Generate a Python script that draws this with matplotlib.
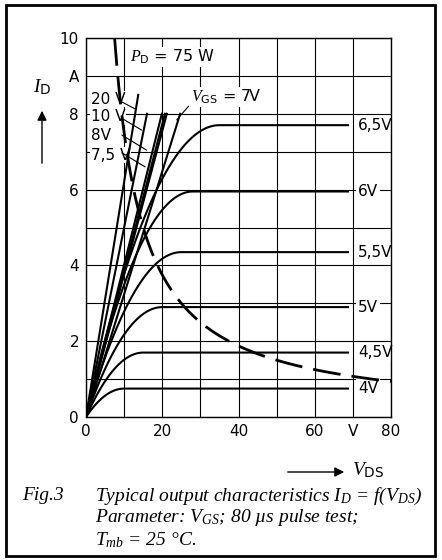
import numpy as np
import matplotlib
matplotlib.use("Agg")
import matplotlib.pyplot as plt
from matplotlib import font_manager
from matplotlib.patches import Rectangle

# datos
vds_max = 69
# curvas con saturacion (VGS = 4 ... 6,5 V)
sat_labels = ["4V", "4,5V", "5V", "5,5V", "6V", "6,5V"]
sat_current = [0.75, 1.7, 2.9, 4.35, 5.95, 7.7]
sat_knee = [10, 15, 20, 25, 28, 35]
# rectas (VGS >= 7 V) hasta el limite de 8 A
lin_end_v = [13.7, 16.0, 19.9, 20.7, 21.2, 24.7]
lin_end_i = [8.5, 8.0, 8.0, 8.0, 8.0, 8.0]
# limite de potencia
p_max = 75
x_ticks = [0, 10, 20, 30, 40, 50, 60, 70, 80]
x_tick_labels = ["0", "", "20", "", "40", "", "60", "V", "80"]
y_ticks = list(range(0, 11))
y_tick_labels = ["0", "", "2", "", "4", "", "6", "", "8", "A", "10"]

# fuentes
disponibles = {f.name for f in font_manager.fontManager.ttflist}
sans = "Liberation Sans Narrow" if "Liberation Sans Narrow" in disponibles else "DejaVu Sans"
plt.rcParams["font.family"] = [sans, "DejaVu Sans"]
plt.rcParams["mathtext.fontset"] = "custom"
plt.rcParams["mathtext.it"] = "Liberation Serif:italic"
plt.rcParams["mathtext.rm"] = "Liberation Serif:italic"
plt.rcParams["mathtext.sf"] = sans

W, H = 442, 560
fig = plt.figure(figsize=(W / 100, H / 100), dpi=100)
ax = fig.add_axes([86 / W, 1 - 417 / H, 305 / W, 379 / H])


def px(x, y):
    return (x / W, 1 - y / H)


# curvas de saturacion
for isat, vk, lab in zip(sat_current, sat_knee, sat_labels):
    v = np.linspace(0, vds_max, 300)
    i = np.where(v < vk, isat * (1 - (1 - v / vk) ** 2), isat)
    ax.plot(v, i, color="black", lw=1.5, zorder=3, solid_capstyle="butt")
    ax.text(71.3, isat, lab, fontsize=11, va="center", ha="left", zorder=2.5,
            bbox=dict(facecolor="white", edgecolor="none", pad=1.5))

# rectas de alta VGS
for ve, ie in zip(lin_end_v, lin_end_i):
    ax.plot([0, ve], [0, ie], color="black", lw=1.5, zorder=3)

# hiperbola de potencia
v_p = np.linspace(p_max / 10, 80, 400)
ax.plot(v_p, p_max / v_p, color="black", lw=2, dashes=(10, 4), zorder=3)

# etiquetas con linea de referencia
izq = [("20 V", 8.39, (8.9, 8.34), (12.86, 8.13)),
       ("10 V", 7.92, (9.4, 7.88), (14.6, 7.57)),
       ("8V", 7.44, (9.4, 7.44), (15.9, 7.04)),
       ("7,5 V", 6.91, (9.4, 6.97), (15.5, 6.6))]
for txt, yy, a, b in izq:
    ax.text(1.3, yy, txt, fontsize=11, va="center", ha="left", zorder=2.5,
            bbox=dict(facecolor="white", edgecolor="none", pad=0.5))
    ax.annotate("", xy=b, xytext=a, zorder=4,
                arrowprops=dict(arrowstyle="-", lw=0.8, color="black",
                                shrinkA=0, shrinkB=0))

ax.text(27.5, 8.45, r"$V_{\mathsf{GS}}$ = 7V", fontsize=11.5, va="center", ha="left",
        zorder=2.5, bbox=dict(facecolor="white", edgecolor="none", pad=0.5))
ax.annotate("", xy=(23.8, 7.84), xytext=(26.9, 8.2), zorder=4,
            arrowprops=dict(arrowstyle="-", lw=0.8, color="black", shrinkA=0, shrinkB=0))

ax.text(11.5, 9.5, r"$P_{\mathsf{D}}$ = 75 W", fontsize=11.5, va="center", ha="left",
        zorder=2.5, bbox=dict(facecolor="white", edgecolor="none", pad=0.5))

# ejes y rejilla
ax.set_xlim(0, 80)
ax.set_ylim(0, 10)
ax.set_xticks(x_ticks)
ax.set_xticklabels(x_tick_labels, fontsize=11)
ax.set_yticks(y_ticks)
ax.set_yticklabels(y_tick_labels, fontsize=11)
ax.tick_params(length=0, pad=5)
ax.grid(True, color="black", lw=0.8, zorder=0)
ax.set_axisbelow(True)
for s in ax.spines.values():
    s.set_linewidth(1.0)

# flechas de los ejes
fig.text(*px(33, 87), r"$I_{\mathsf{D}}$", fontsize=14, va="center", ha="left")
ax.annotate("", xy=px(42, 108), xytext=px(42, 166), xycoords="figure fraction",
            textcoords="figure fraction",
            arrowprops=dict(arrowstyle="-|>", lw=1, color="black", mutation_scale=14))
ax.annotate("", xy=px(347, 472), xytext=px(285, 472), xycoords="figure fraction",
            textcoords="figure fraction",
            arrowprops=dict(arrowstyle="-|>", lw=1, color="black", mutation_scale=14))
fig.text(*px(352, 470), r"$V_{\mathsf{DS}}$", fontsize=14, va="center", ha="left")

# pie de figura
cap = dict(fontsize=14, family="Liberation Serif", style="italic", va="center", ha="left")
fig.text(*px(22, 496), "Fig.3", **cap)
fig.text(*px(95, 496), "Typical output characteristics $I_D$ = f($V_{DS}$)", **cap)
fig.text(*px(95, 518), "Parameter: $V_{GS}$; 80 µs pulse test;", **cap)
fig.text(*px(95, 540), "$T_{mb}$ = 25 °C.", **cap)

# marco
fig.patches.append(Rectangle(px(6, 556), 429 / W, 551 / H, transform=fig.transFigure,
                             fill=False, lw=2, edgecolor="black"))

fig.savefig("out.png", dpi=100)
